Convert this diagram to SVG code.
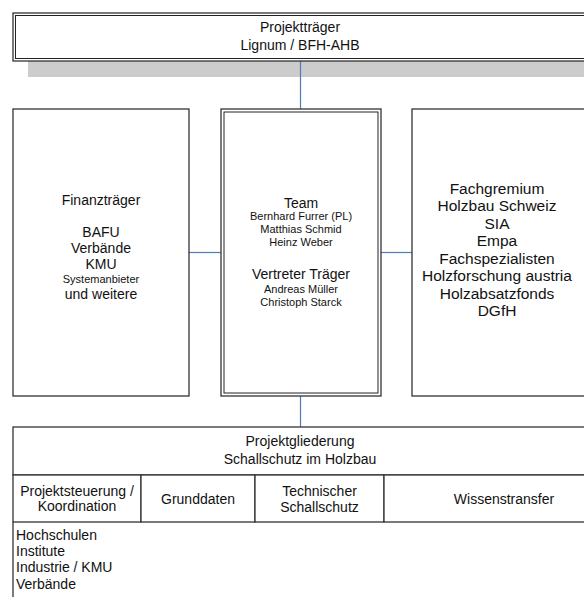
<svg xmlns="http://www.w3.org/2000/svg" width="584" height="597" viewBox="0 0 584 597">
<style>
text{font-family:"Liberation Sans",Arial,sans-serif;fill:#111;text-anchor:middle}
.b{fill:#fff;stroke:#333;stroke-width:1.3}
.i{fill:none;stroke:#222;stroke-width:1}
.t{font-size:14px}
.r{font-size:15.5px}
.s{font-size:11px}
.l{text-anchor:start}
.c{stroke:#4a7ebb;stroke-width:1.2;fill:none}
</style>
<rect x="0" y="0" width="584" height="597" fill="#fff"/>
<rect x="28" y="61" width="570" height="16" fill="#cccccc"/>
<g id="connectors">
<line class="c" x1="300.5" y1="61" x2="300.5" y2="109"/>
<line class="c" x1="189" y1="252.5" x2="221" y2="252.5"/>
<line class="c" x1="381" y1="252.5" x2="412" y2="252.5"/>
<line class="c" x1="300.5" y1="396" x2="300.5" y2="427"/>
</g>
<g id="traeger">
<rect class="b" x="13" y="13" width="590" height="48"/>
<rect class="i" x="15.5" y="15.5" width="590" height="43"/>
<text class="t" x="300" y="32">Projektträger</text>
<text class="t" x="300" y="50">Lignum / BFH-AHB</text>
</g>
<g id="finanz">
<rect class="b" x="13" y="109" width="176" height="287"/>
<text class="t" x="101" y="205">Finanzträger</text>
<text class="t" x="101" y="237">BAFU</text>
<text class="t" x="101" y="253">Verbände</text>
<text class="t" x="101" y="269">KMU</text>
<text class="s" x="101" y="283">Systemanbieter</text>
<text class="t" x="101" y="299">und weitere</text>
</g>
<g id="team">
<rect class="b" x="221" y="109" width="160" height="287"/>
<rect class="i" x="224" y="112" width="154" height="281"/>
<text class="t" x="301" y="208">Team</text>
<text class="s" x="301" y="220">Bernhard Furrer (PL)</text>
<text class="s" x="301" y="233">Matthias Schmid</text>
<text class="s" x="301" y="246">Heinz Weber</text>
<text class="t" x="301" y="279">Vertreter Träger</text>
<text class="s" x="301" y="293">Andreas Müller</text>
<text class="s" x="301" y="306">Christoph Starck</text>
</g>
<g id="fach">
<rect class="b" x="412" y="109" width="190" height="287"/>
<text class="r" x="497" y="193.5">Fachgremium</text>
<text class="r" x="497" y="211">Holzbau Schweiz</text>
<text class="r" x="497" y="228.5">SIA</text>
<text class="r" x="497" y="246">Empa</text>
<text class="r" x="497" y="263.5">Fachspezialisten</text>
<text class="r" x="497" y="281">Holzforschung austria</text>
<text class="r" x="497" y="298.5">Holzabsatzfonds</text>
<text class="r" x="497" y="316">DGfH</text>
</g>
<g id="gliederung">
<rect class="b" x="13" y="427" width="590" height="48"/>
<text class="t" x="300" y="446">Projektgliederung</text>
<text class="t" x="300" y="464">Schallschutz im Holzbau</text>
</g>
<g id="steuerung">
<rect class="b" x="13" y="475" width="128" height="47"/>
<text class="t" x="77" y="496">Projektsteuerung /</text>
<text class="t" x="77" y="511">Koordination</text>
</g>
<g id="grunddaten">
<rect class="b" x="141" y="475" width="114" height="47"/>
<text class="t" x="198" y="504">Grunddaten</text>
</g>
<g id="technisch">
<rect class="b" x="255" y="475" width="129" height="47"/>
<text class="t" x="319.5" y="496">Technischer</text>
<text class="t" x="319.5" y="512">Schallschutz</text>
</g>
<g id="wissen">
<rect class="b" x="384" y="475" width="219" height="47"/>
<text class="t" x="504" y="504">Wissenstransfer</text>
</g>
<g id="beteiligte">
<line x1="13" y1="522" x2="13" y2="597" stroke="#333" stroke-width="1.3"/>
<text class="t l" x="16" y="540">Hochschulen</text>
<text class="t l" x="16" y="556">Institute</text>
<text class="t l" x="16" y="572">Industrie / KMU</text>
<text class="t l" x="16" y="589">Verbände</text>
</g>
</svg>
